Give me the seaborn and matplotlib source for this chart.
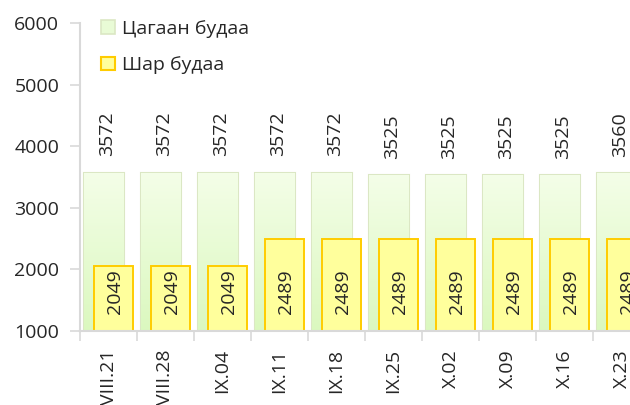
import numpy as np
import pandas as pd
import matplotlib
matplotlib.use('Agg')
import matplotlib.pyplot as plt
import seaborn as sns
from matplotlib.patches import Patch

# data
dates = ['VIII.21', 'VIII.28', 'IX.04', 'IX.11', 'IX.18',
         'IX.25', 'X.02', 'X.09', 'X.16', 'X.23']
white_wheat = [3572, 3572, 3572, 3572, 3572, 3525, 3525, 3525, 3525, 3560]
yellow_wheat = [2049, 2049, 2049, 2489, 2489, 2489, 2489, 2489, 2489, 2489]
series_names = ['Цагаан будаа', 'Шар будаа']

sns.set_style('white')
plt.rcParams['font.family'] = ['Open Sans', 'DejaVu Sans']
txt_color = '#262626'
fs = 14

pos = np.arange(len(dates))
df = pd.DataFrame({'pos': pos, 'date': dates,
                   'white': white_wheat, 'yellow': yellow_wheat})

fig = plt.figure(figsize=(6.3, 4.05), dpi=100)
ax = fig.add_axes([80 / 630, 74 / 405, 570 / 630, 308 / 405])

green_fill = '#e9fbd6'
green_edge = '#dbe7c4'
yellow_fill = '#ffff9c'
yellow_edge = '#ffcc00'

sns.barplot(x=df['pos'] - 0.08, y=df['white'], native_scale=True, width=0.70,
            color=green_fill, edgecolor=green_edge, linewidth=1.5,
            saturation=1, ax=ax, zorder=2)
n_green = len(ax.patches)
sns.barplot(x=df['pos'] + 0.09, y=df['yellow'], native_scale=True, width=0.68,
            color=yellow_fill, edgecolor=yellow_edge, linewidth=1.4,
            saturation=1, ax=ax, zorder=3)

# vertical gradient for the green bars
grad = np.linspace(0, 1, 256).reshape(-1, 1)
cmap = matplotlib.colors.LinearSegmentedColormap.from_list(
    'g', ['#dbf8bf', '#f4fee8'])
for p in ax.patches[:n_green]:
    x0, y0 = p.get_x(), p.get_y()
    w, h = p.get_width(), p.get_height()
    im = ax.imshow(grad, extent=[x0, x0 + w, 1000, y0 + h], origin='lower',
                   aspect='auto', cmap=cmap, zorder=2.1)
    im.set_clip_path(p)

ax.set_ylim(1000, 6000)
ax.set_xlim(-0.5, 9.5)
ax.set_yticks([1000, 2000, 3000, 4000, 5000, 6000])
ax.set_xticks(pos)
ax.set_xticklabels(dates, rotation=90, fontsize=fs, color=txt_color)
ax.set_xticks(np.arange(-0.5, 10, 1), minor=True)
ax.tick_params(axis='x', which='major', length=0, pad=13)
ax.tick_params(axis='x', which='minor', length=7, width=1.2,
               color='#d9d9d9', direction='out', bottom=True)
ax.tick_params(axis='y', length=7, width=1.2, color='#d9d9d9',
               direction='out', left=True, labelsize=fs,
               labelcolor=txt_color, pad=8)
ax.set_xlabel('')
ax.set_ylabel('')

for s in ['top', 'right']:
    ax.spines[s].set_visible(False)
for s in ['left', 'bottom']:
    ax.spines[s].set_color('#d9d9d9')
    ax.spines[s].set_linewidth(1.5)
    ax.spines[s].set_zorder(4)

# value labels
for i in range(len(dates)):
    ax.text(pos[i] - 0.02, white_wheat[i] + 270, str(white_wheat[i]),
            rotation=90, ha='center', va='bottom', fontsize=fs,
            color=txt_color)
    ax.text(pos[i] + 0.12, 1000 + 270, str(yellow_wheat[i]),
            rotation=90, ha='center', va='bottom', fontsize=fs,
            color=txt_color, zorder=5)

# legend
handles = [Patch(facecolor=green_fill, edgecolor=green_edge, linewidth=1.2),
           Patch(facecolor=yellow_fill, edgecolor=yellow_edge, linewidth=1.5)]
fig.legend(handles, series_names, loc='upper left',
           bbox_to_anchor=(101 / 630, 1 - 20 / 405), frameon=False,
           fontsize=fs, handlelength=0.7, handleheight=0.7,
           handletextpad=0.4, labelspacing=0.95, borderpad=0,
           borderaxespad=0, labelcolor=txt_color)

fig.savefig('out.png', dpi=100)
